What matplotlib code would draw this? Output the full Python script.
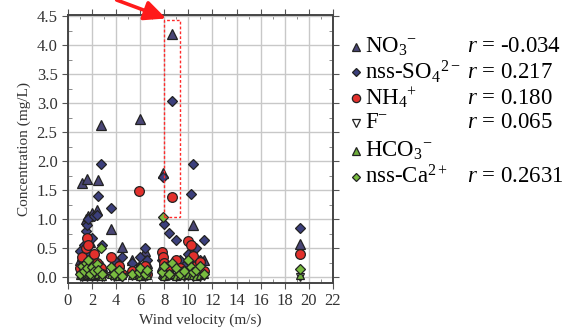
import numpy as np
import matplotlib
matplotlib.use('Agg')
import matplotlib.pyplot as plt
from matplotlib.lines import Line2D
from matplotlib.patches import Rectangle

plt.rcParams['font.family'] = ['Liberation Serif', 'DejaVu Serif']
plt.rcParams['mathtext.fontset'] = 'custom'
plt.rcParams['mathtext.rm'] = 'Liberation Serif'
plt.rcParams['mathtext.it'] = 'Liberation Serif:italic'

# wind velocity of each sampling event (m/s)
wind = [1.0, 1.2, 1.3, 1.5, 1.6, 1.7, 1.8, 2.0, 2.2, 2.4, 2.5, 2.7, 2.8,
        3.6, 3.8, 4.2, 4.5, 5.3, 5.9, 6.0, 6.4, 6.6,
        7.8, 7.9, 8.0, 8.4, 8.6, 9.0, 9.3, 9.6,
        10.0, 10.2, 10.4, 10.6, 11.0, 11.3, 19.3]

# concentrations (mg/L)
no3 = [0.30, 1.62, 0.45, 1.00, 1.69, 1.05, 0.60, 1.10, 0.35, 1.15, 1.67, 2.62, 0.20,
       0.83, 0.15, 0.25, 0.52, 0.30, 0.20, 2.72, 0.45, 0.25,
       0.20, 1.80, 0.30, 0.15, 4.20, 0.10, 0.25, 0.10,
       0.35, 0.50, 0.90, 0.20, 0.10, 0.30, 0.57]
so4 = [0.45, 0.30, 0.55, 0.80, 0.90, 1.00, 0.40, 0.67, 1.05, 1.08, 1.40, 1.95, 0.55,
       1.19, 0.30, 0.20, 0.35, 0.25, 0.15, 0.35, 0.50, 0.30,
       0.30, 1.72, 0.91, 0.76, 3.03, 0.64, 0.30, 0.20,
       0.40, 1.43, 1.95, 0.50, 0.30, 0.64, 0.85]
nh4 = [0.15, 0.35, 0.10, 0.50, 0.67, 0.55, 0.30, 0.20, 0.40, 0.25, 0.10, 0.15, 0.05,
       0.34, 0.10, 0.20, 0.05, 0.10, 1.48, 0.10, 0.20, 0.05,
       0.43, 0.35, 0.25, 0.20, 1.38, 0.30, 0.15, 0.10,
       0.62, 0.55, 0.36, 0.20, 0.26, 0.10, 0.40]
f_ion = [0.02, 0.01, 0.03, 0.02, 0.01, 0.02, 0.03, 0.01, 0.02, 0.01, 0.02, 0.03, 0.01,
         0.02, 0.01, 0.02, 0.01, 0.02, 0.01, 0.02, 0.01, 0.02,
         0.03, 0.02, 0.01, 0.02, 0.03, 0.01, 0.02, 0.01,
         0.02, 0.03, 0.01, 0.02, 0.01, 0.02, 0.01]
hco3 = [0.03, 0.05, 0.02, 0.04, 0.06, 0.03, 0.05, 0.02, 0.04, 0.03, 0.06, 0.04, 0.02,
        0.05, 0.03, 0.02, 0.04, 0.03, 0.05, 0.02, 0.04, 0.03,
        0.05, 0.04, 0.02, 0.03, 0.05, 0.02, 0.04, 0.03,
        0.05, 0.03, 0.04, 0.02, 0.03, 0.05, 0.03]
ca = [0.05, 0.20, 0.10, 0.25, 0.15, 0.30, 0.05, 0.18, 0.10, 0.22, 0.12, 0.50, 0.05,
      0.18, 0.05, 0.12, 0.02, 0.05, 0.08, 0.15, 0.05, 0.12,
      0.08, 1.03, 0.20, 0.05, 0.25, 0.15, 0.05, 0.10,
      0.30, 0.18, 0.08, 0.12, 0.20, 0.05, 0.14]

labels = [r'NO$_3$$^{-}$', r'nss-SO$_4$$^{2-}$', r'NH$_4$$^{+}$', r'F$^{-}$',
          r'HCO$_3$$^{-}$', r'nss-Ca$^{2+}$']
r_values = ['-0.034', '0.217', '0.180', '0.065', None, '0.2631']

series = [no3, so4, nh4, f_ion, hco3, ca]
styles = [
    dict(marker='^', ms=6.5, mfc='#4a4676'),
    dict(marker='D', ms=5.0, mfc='#3b3f7c'),
    dict(marker='o', ms=7.0, mfc='#e2302c'),
    dict(marker='v', ms=6.0, mfc='white'),
    dict(marker='^', ms=6.0, mfc='#6fae3c'),
    dict(marker='D', ms=5.0, mfc='#79bb3f'),
]

fig = plt.figure(figsize=(5.69, 3.36), dpi=100)
ax = fig.add_axes([0.1195, 0.158, 0.4655, 0.797])

for vals, st in zip(series, styles):
    ax.plot(wind, vals, ls='none', mec='#222222', mew=0.9, **st)

ax.set_xlim(0, 22)
ax.set_ylim(-0.1, 4.52)
ax.set_xticks(np.arange(0, 23, 2))
ax.set_yticks(np.arange(0, 4.51, 0.5))
ax.set_yticklabels(['%.1f' % v for v in np.arange(0, 4.51, 0.5)])
ax.set_xticks(np.arange(0, 23, 1), minor=True)
ax.set_yticks(np.arange(0, 4.51, 0.25), minor=True)
ax.grid(True, which='major', color='#c8c8c8', lw=1.0)
ax.set_axisbelow(True)
ax.tick_params(which='major', direction='out', length=4, width=0.8, color='#555555',
               labelsize=12, labelcolor='#333333', top=True, right=True)
ax.tick_params(which='minor', direction='in', length=3, width=0.6, color='#777777',
               top=True, right=True)
for sp in ax.spines.values():
    sp.set_color('#444444')
    sp.set_linewidth(1.4)
ax.set_xlabel('Wind velocity (m/s)', fontsize=11, color='#333333', labelpad=3)
ax.set_ylabel('Concentration (mg/L)', fontsize=11, color='#333333', labelpad=4)

# highlighted event
ax.add_patch(Rectangle((7.95, 1.03), 1.35, 3.4, fill=False, ec='#ff2a2a',
                       ls=(0, (2, 1.5)), lw=1.0, zorder=5))
ax.annotate('', xy=(0.292, 0.945), xycoords='figure fraction',
            xytext=(0.205, 1.0), textcoords='figure fraction',
            arrowprops=dict(arrowstyle='-|>,head_length=1.3,head_width=0.6',
                            color='#ff1a1a', lw=2.6, shrinkA=0, shrinkB=0),
            annotation_clip=False)

# legend with correlation coefficients
row_y = [47, 72, 98, 123, 151, 177]
for st, lab, r, yp in zip(styles, labels, r_values, row_y):
    yf = 1 - yp / 336.0
    fig.add_artist(Line2D([356 / 569.0], [yf], transform=fig.transFigure, ls='none',
                          marker=st['marker'], ms=st['ms'] * 0.85, mfc=st['mfc'],
                          mec='#222222', mew=0.9))
    fig.text(365 / 569.0, yf, lab, fontsize=16.5, va='center', ha='left', color='black')
    if r is not None:
        fig.text(467 / 569.0, yf, r'$\it{r}$ = ' + r, fontsize=16.5, va='center',
                 ha='left', color='black')

fig.savefig('out.png', dpi=100)
